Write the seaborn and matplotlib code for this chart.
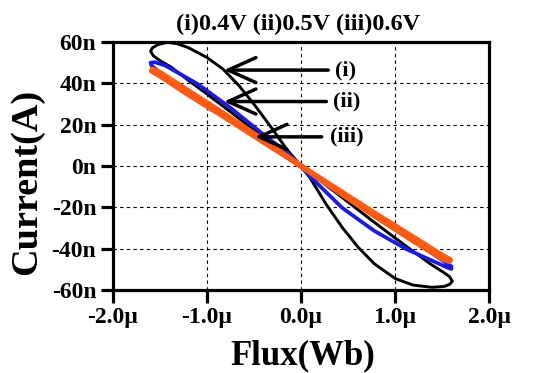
import matplotlib
matplotlib.use("Agg")
import matplotlib.pyplot as plt
import seaborn as sns
from matplotlib.patches import FancyArrowPatch

# Flux in µWb, current in nA, traced around each pinched loop
flux_i = [0.0, -0.15, -0.32, -0.49, -0.66, -0.83, -1.00, -1.20, -1.32, -1.42, -1.52, -1.58, -1.60,
          -1.57, -1.50, -1.38, -1.20, -1.00, -0.75, -0.50, -0.25, 0.0,
          0.10, 0.27, 0.44, 0.61, 0.78, 1.00, 1.19, 1.39, 1.52, 1.58, 1.61,
          1.58, 1.50, 1.38, 1.20, 1.00, 0.75, 0.50, 0.25, 0.0]
current_i = [0.0, 8.0, 18.9, 29.3, 38.9, 46.9, 52.5, 57.3, 59.2, 59.8, 58.8, 57.2, 55.5,
             53.3, 51.0, 47.8, 41.5, 34.8, 26.2, 17.4, 8.7, 0.0,
             -6.0, -18.7, -29.8, -39.4, -47.3, -54.4, -57.6, -58.7, -58.3, -57.3, -55.8,
             -53.5, -51.0, -47.5, -41.5, -34.8, -26.2, -17.4, -8.7, 0.0]

flux_ii = [0.0, -0.15, -0.42, -0.76, -1.10, -1.44, -1.55, -1.60, -1.59,
           -1.50, -1.20, -0.90, -0.60, -0.30, 0.0,
           0.10, 0.44, 0.78, 1.12, 1.39, 1.56, 1.60, 1.60,
           1.50, 1.20, 0.90, 0.60, 0.30, 0.0]
current_ii = [0.0, 6.4, 16.0, 28.5, 39.7, 48.5, 50.2, 50.0, 48.5,
              45.3, 36.3, 27.2, 18.1, 9.0, 0.0,
              -5.2, -20.3, -31.4, -40.2, -45.7, -49.2, -49.8, -48.6,
              -45.5, -36.4, -27.3, -18.2, -9.1, 0.0]

flux_iii = [0.0, -0.40, -0.80, -1.20, -1.50, -1.58, -1.59, -1.50, -1.20, -0.80, -0.40, 0.0,
            0.40, 0.80, 1.20, 1.50, 1.58, 1.59, 1.50, 1.20, 0.80, 0.40, 0.0]
current_iii = [0.0, 12.6, 24.7, 36.4, 45.2, 46.8, 46.0, 43.6, 34.6, 23.3, 11.6, 0.0,
               -12.6, -24.7, -36.4, -44.8, -46.2, -45.4, -43.2, -34.6, -23.3, -11.6, 0.0]

x_ticks = [-2, -1, 0, 1, 2]
x_tick_labels = ["-2.0µ", "-1.0µ", "0.0µ", "1.0µ", "2.0µ"]
y_ticks = [-60, -40, -20, 0, 20, 40, 60]
y_tick_labels = ["-60n", "-40n", "-20n", "0n", "20n", "40n", "60n"]

# Arrow annotations: label, tail, head
arrow_labels = ["(i)", "(ii)", "(iii)"]
arrow_tails = [(0.29, 46.4), (0.27, 31.2), (0.22, 14.1)]
arrow_heads = [(-0.82, 46.4), (-0.82, 31.2), (-0.49, 14.1)]
label_x = [0.36, 0.34, 0.31]

sns.set_style("white")
plt.rcParams["font.family"] = ["Liberation Serif", "DejaVu Serif"]
plt.rcParams["font.weight"] = "bold"
plt.rcParams["text.color"] = "black"
plt.rcParams["xtick.color"] = "black"
plt.rcParams["ytick.color"] = "black"

fig = plt.figure(figsize=(5.44, 3.73), dpi=100)
ax = fig.add_axes([0.2077, 0.2225, 0.6912, 0.6649])

curves = [
    (flux_i, current_i, "black", 2.1, 2),
    (flux_ii, current_ii, "#1a1ae6", 2.7, 3),
    (flux_iii, current_iii, "#ff5a14", 3.8, 4),
]
for fx, cu, col, lw, z in curves:
    sns.lineplot(x=fx, y=cu, sort=False, estimator=None, color=col,
                 linewidth=lw, ax=ax, zorder=z)

ax.set_xlim(-2, 2)
ax.set_ylim(-60, 60)
ax.set_xticks(x_ticks)
ax.set_xticklabels(x_tick_labels)
ax.set_yticks(y_ticks)
ax.set_yticklabels(y_tick_labels)
ax.set_xlabel("")
ax.set_ylabel("")

ax.grid(True, color="black", linestyle=(0, (3, 3)), linewidth=0.8)
for s in ax.spines.values():
    s.set_visible(True)
    s.set_color("black")
    s.set_linewidth(2.3)
    s.set_zorder(6)

ax.tick_params(axis="both", direction="out", length=9, width=2.3, color="black",
               labelcolor="black", labelsize=17, pad=3,
               bottom=True, left=True, top=False, right=False)
for lab in ax.get_xticklabels() + ax.get_yticklabels():
    lab.set_fontweight("bold")

for lab, tail, head, lx in zip(arrow_labels, arrow_tails, arrow_heads, label_x):
    arr = FancyArrowPatch(tail, head, arrowstyle="->,head_length=1.0,head_width=0.45",
                          mutation_scale=20, lw=2.5, color="black",
                          shrinkA=0, shrinkB=0, zorder=7)
    ax.add_patch(arr)
    ax.text(lx, tail[1], lab, ha="left", va="center", fontsize=16,
            fontweight="bold", color="black", zorder=7)

fig.text(298 / 544, 1 - 24 / 373, "(i)0.4V (ii)0.5V (iii)0.6V", ha="center",
         va="center", fontsize=17.5, fontweight="bold", color="black")
fig.text(303 / 544, 1 - 356 / 373, "Flux(Wb)", ha="center", va="center",
         fontsize=25, fontweight="bold", color="black")
fig.text(27 / 544, 1 - 182 / 373, "Current(A)", ha="center", va="center",
         rotation=90, fontsize=27.5, fontweight="bold", color="black")

fig.savefig("out.png", dpi=100)
